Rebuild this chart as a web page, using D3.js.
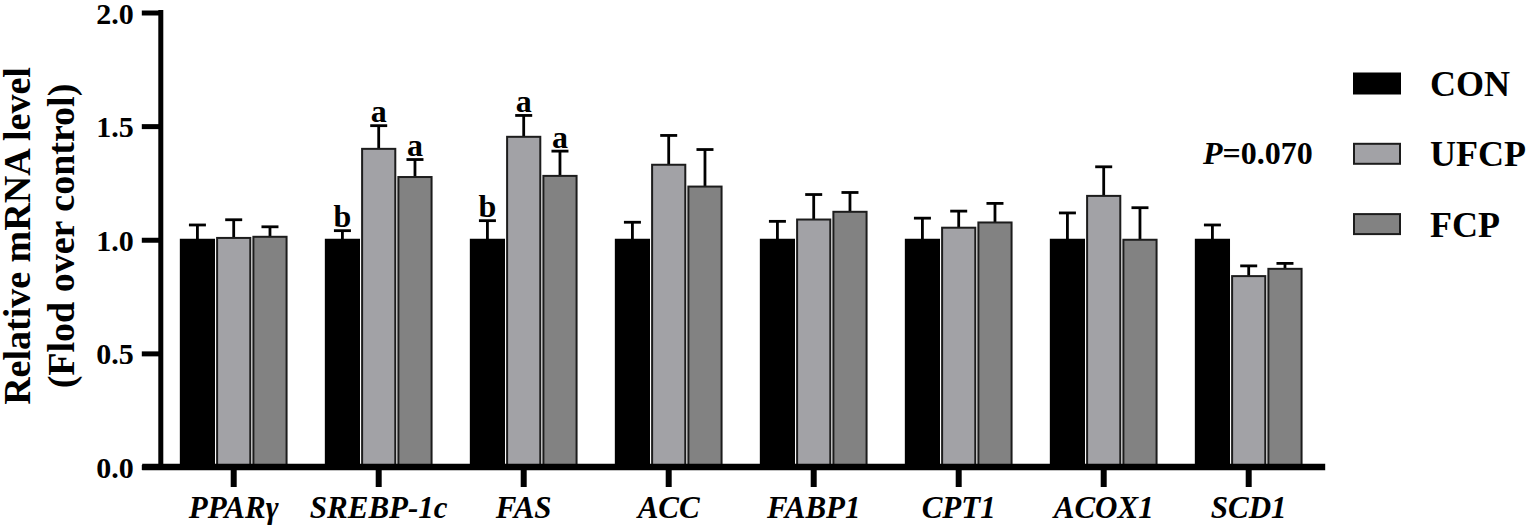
<!DOCTYPE html>
<html>
<head>
<meta charset="utf-8">
<script src="https://cdn.jsdelivr.net/npm/d3@7"></script>
<style>
  html, body { margin: 0; padding: 0; background: #fff; }
  svg { display: block; }
</style>
</head>
<body>
<svg id="chart" width="1535" height="529"></svg>
<script>
// ---- data ----
const categories = ["PPARγ", "SREBP-1c", "FAS", "ACC", "FABP1", "CPT1", "ACOX1", "SCD1"];
const seriesNames = ["CON", "UFCP", "FCP"];
const conValues  = [1.00, 1.00, 1.00, 1.00, 1.00, 1.00, 1.00, 1.00];
const conErr     = [0.065, 0.040, 0.084, 0.077, 0.081, 0.095, 0.118, 0.065];
const ufcpValues = [1.008, 1.400, 1.453, 1.330, 1.089, 1.053, 1.193, 0.840];
const ufcpErr    = [0.080, 0.102, 0.094, 0.129, 0.110, 0.073, 0.128, 0.045];
const fcpValues  = [1.013, 1.276, 1.281, 1.234, 1.123, 1.076, 1.000, 0.872];
const fcpErr     = [0.044, 0.077, 0.109, 0.163, 0.085, 0.084, 0.141, 0.024];
const sigLetters = [
  ["", "", ""], ["b", "a", "a"], ["b", "a", "a"], ["", "", ""],
  ["", "", ""], ["", "", ""], ["", "", ""], ["", "", ""]
];
const yTicks = [0, 0.5, 1.0, 1.5, 2.0];
const pLabel = "=0.070";
const yTitle = ["Relative mRNA level", "(Flod over control)"];

// ---- build ----
const FONT = "'Liberation Serif'";
const values = [conValues, ufcpValues, fcpValues];
const errs = [conErr, ufcpErr, fcpErr];
const colors = ["#000000", "#a2a2a6", "#828282"];
const strokes = ["#000000", "#1c1c1c", "#1c1c1c"];

const svg = d3.select("#chart")
  .attr("font-family", FONT).attr("font-weight", "bold");

const y = d3.scaleLinear().domain([0, 2]).range([467, 12.5]);
const x = d3.scaleBand().domain(categories).range([161.2, 1321.2])
  .paddingInner(0.257).paddingOuter(0.1285);
const xs = d3.scaleBand().domain(seriesNames).range([0, x.bandwidth()]).paddingInner(0.03);

const data = [];
categories.forEach((c, i) => {
  seriesNames.forEach((s, j) => {
    data.push({cat: c, ser: s, j, v: values[j][i], e: errs[j][i], letter: sigLetters[i][j]});
  });
});

const g = svg.append("g");
const cx = d => x(d.cat) + xs(d.ser) + xs.bandwidth() / 2;

// error bars (upper only)
const eb = g.selectAll("g.err").data(data).enter().append("g").attr("class", "err");
eb.append("line")
  .attr("x1", cx).attr("x2", cx)
  .attr("y1", d => y(d.v)).attr("y2", d => y(d.v + d.e))
  .attr("stroke", "#000").attr("stroke-width", 2.8);
eb.append("line")
  .attr("x1", d => cx(d) - 8.5).attr("x2", d => cx(d) + 8.5)
  .attr("y1", d => y(d.v + d.e)).attr("y2", d => y(d.v + d.e))
  .attr("stroke", "#000").attr("stroke-width", 2.8);

// bars
g.selectAll("rect.bar").data(data).enter().append("rect")
  .attr("class", "bar")
  .attr("x", d => x(d.cat) + xs(d.ser) + 1)
  .attr("width", xs.bandwidth() - 2)
  .attr("y", d => y(d.v))
  .attr("height", d => y(0) - y(d.v))
  .attr("fill", d => colors[d.j])
  .attr("stroke", d => strokes[d.j])
  .attr("stroke-width", 2);

// significance letters
g.selectAll("text.sig").data(data.filter(d => d.letter)).enter().append("text")
  .attr("class", "sig")
  .attr("x", cx)
  .attr("y", d => y(d.v + d.e) - 3.5)
  .attr("text-anchor", "middle")
  .attr("font-family", FONT).attr("font-weight", "bold").attr("font-size", 32)
  .attr("fill", "#000")
  .text(d => d.letter);

// y axis
const yAxis = d3.axisLeft(y).tickValues(yTicks).tickFormat(d3.format(".1f"))
  .tickSize(19).tickSizeOuter(0).tickPadding(8);
const yg = svg.append("g").attr("transform", "translate(160.8,0)").call(yAxis)
  .attr("font-family", FONT).attr("font-size", 30).attr("font-weight", "bold");
yg.select(".domain").attr("stroke", "#000").attr("stroke-width", 5)
  .attr("d", `M0,${y(2) - 2.5}V${y(0)}`);
yg.selectAll(".tick line").attr("stroke", "#000").attr("stroke-width", 5);
yg.selectAll(".tick text").attr("font-family", FONT).attr("font-weight", "bold")
  .attr("font-size", 30).attr("fill", "#000").attr("dy", "0.35em");

// x axis
const xAxis = d3.axisBottom(x).tickSize(20).tickSizeOuter(0).tickPadding(9);
const xg = svg.append("g").attr("transform", `translate(0,${y(0)})`).call(xAxis)
  .attr("font-family", FONT).attr("font-size", 31).attr("font-weight", "bold");
xg.select(".domain").attr("stroke", "#000").attr("stroke-width", 6.5)
  .attr("d", `M${x.range()[0] - 19},0H${x.range()[1] + 4}`);
xg.selectAll(".tick line").attr("stroke", "#000").attr("stroke-width", 6);
xg.selectAll(".tick text").attr("font-family", FONT).attr("font-weight", "bold")
  .attr("font-style", "italic").attr("font-size", 31).attr("fill", "#000");

// y title
yTitle.forEach((t, i) => {
  svg.append("text")
    .attr("transform", `translate(${i === 0 ? 29.5 : 73.5},236) rotate(-90)`)
    .attr("text-anchor", "middle")
    .attr("font-family", FONT).attr("font-weight", "bold").attr("font-size", 38)
    .attr("fill", "#000")
    .text(t);
});

// P value annotation
const pt = svg.append("text").attr("x", 1203).attr("y", 163.5)
  .attr("font-family", FONT).attr("font-weight", "bold").attr("font-size", 32).attr("fill", "#000");
pt.append("tspan").attr("font-style", "italic").text("P");
pt.append("tspan").text(pLabel);

// legend
const legend = svg.append("g").attr("transform", "translate(1353,72.5)");
seriesNames.forEach((s, j) => {
  const lg = legend.append("g").attr("transform", `translate(0,${j * 70.3})`);
  lg.append("rect").attr("x", j === 0 ? 0 : 1).attr("y", j === 0 ? 0 : 1)
    .attr("width", j === 0 ? 48 : 46).attr("height", j === 0 ? 22 : 20)
    .attr("fill", colors[j]).attr("stroke", strokes[j]).attr("stroke-width", j === 0 ? 0 : 2);
  lg.append("text").attr("x", 77).attr("y", 23.5)
    .attr("font-family", FONT).attr("font-weight", "bold").attr("font-size", 36).attr("fill", "#000")
    .text(s);
});
</script>
</body>
</html>
